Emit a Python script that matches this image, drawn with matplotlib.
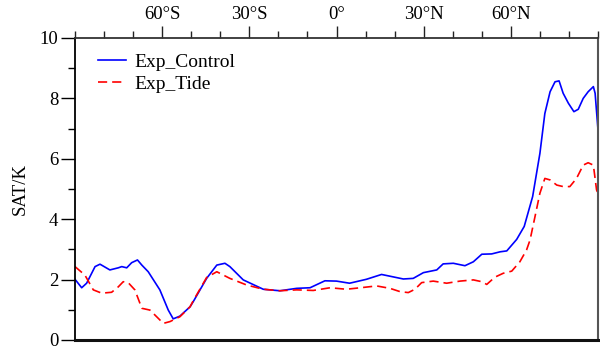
import numpy as np
import matplotlib
matplotlib.use('Agg')
import matplotlib.pyplot as plt
from matplotlib.ticker import MultipleLocator, FixedLocator

plt.rcParams['font.family'] = ['Liberation Serif', 'DejaVu Serif']
plt.rcParams['font.size'] = 13.5

# Surface air temperature difference by latitude
lat_ctrl = [-90, -87.7, -86, -83.1, -81.4, -78, -75.1, -73.9, -72.2, -70.5, -68.5, -67,
            -64.8, -60.8, -57.9, -56.2, -53.9, -50.4, -49.3, -44.7, -41.2, -38.4, -36.7,
            -32.1, -25.2, -19.5, -13.7, -9.1, -4.0, 0, 4.5, 10.3, 15.5, 23, 26.4, 29.9,
            34.5, 36.7, 40.2, 44.2, 47.1, 50, 53.4, 56.3, 58.6, 62, 64.6, 67.5, 70,
            71.7, 73.5, 75.2, 76.6, 78, 79.8, 81.7, 83.2, 84.9, 86.6, 88.4, 89, 90]
sat_ctrl = [2.01, 1.73, 1.88, 2.43, 2.51, 2.32, 2.39, 2.43, 2.39, 2.56, 2.65, 2.48,
            2.26, 1.66, 0.99, 0.70, 0.79, 1.10, 1.27, 2.04, 2.48, 2.54, 2.43,
            1.99, 1.68, 1.63, 1.71, 1.73, 1.96, 1.95, 1.88, 2.01, 2.17, 2.02, 2.04, 2.23,
            2.32, 2.52, 2.54, 2.46, 2.59, 2.84, 2.85, 2.92, 2.95, 3.33, 3.76, 4.75, 6.18,
            7.50, 8.22, 8.55, 8.58, 8.17, 7.84, 7.56, 7.64, 8.00, 8.22, 8.39, 8.17, 6.95]

lat_tide = [-90, -86.6, -83.7, -80.8, -77.4, -75.1, -73.4, -71.7, -69.4, -67, -64.2,
            -61.9, -59.6, -57.3, -55, -53.9, -50.4, -49.3, -44.7, -41.2, -36.7, -30.9,
            -25.2, -19.5, -13.7, -8, -2.2, 3.4, 9.2, 13.8, 18.4, 21.9, 24.7, 27, 29.3,
            33.3, 37.9, 42.5, 47.1, 50, 51.7, 54.5, 57.4, 60.3, 63.1, 65.4, 66.6, 68.3,
            70, 71.7, 73.5, 75.8, 78, 80.3, 82.6, 84.9, 86.6, 88.4, 89.5, 90]
sat_tide = [2.43, 2.15, 1.66, 1.55, 1.58, 1.76, 1.93, 1.90, 1.66, 1.05, 0.99,
            0.77, 0.55, 0.61, 0.72, 0.77, 1.10, 1.30, 2.07, 2.26, 2.04, 1.82,
            1.68, 1.63, 1.66, 1.64, 1.73, 1.68, 1.74, 1.79, 1.71, 1.60, 1.57, 1.68, 1.90,
            1.95, 1.88, 1.95, 1.99, 1.93, 1.84, 2.08, 2.21, 2.28, 2.59, 2.98, 3.31, 4.08,
            4.86, 5.35, 5.30, 5.13, 5.08, 5.08, 5.35, 5.79, 5.87, 5.79, 4.97, 4.85]

xticks = [-60, -30, 0, 30, 60]
xticklabels = ['60°S', '30°S', '0°', '30°N', '60°N']

fig = plt.figure(figsize=(6, 3.47), dpi=100)
ax = fig.add_axes([0.125, 0.0202, 0.8717, 0.8703])

ax.plot(lat_ctrl, sat_ctrl, color='#0000ff', lw=1.2, label='Exp_Control')
ax.plot(lat_tide, sat_tide, color='#ff0000', lw=1.2, ls=(0, (5.5, 3)), label='Exp_Tide')

ax.set_xlim(-90, 90)
ax.set_ylim(0, 10)

ax.xaxis.tick_top()
ax.xaxis.set_major_locator(FixedLocator(xticks))
ax.set_xticklabels(xticklabels)
ax.xaxis.set_minor_locator(MultipleLocator(10))
ax.yaxis.set_major_locator(MultipleLocator(2))
ax.yaxis.set_minor_locator(MultipleLocator(1))
ax.tick_params(axis='x', which='major', direction='out', length=9, width=1, pad=2, colors='#222222', labelcolor='k')
ax.tick_params(axis='x', which='minor', direction='out', length=5, width=1, colors='#222222')
ax.tick_params(axis='y', which='major', direction='out', length=10, width=1, pad=2)
ax.tick_params(axis='y', which='minor', direction='out', length=5, width=1)

ax.spines['bottom'].set_linewidth(2.2)
ax.spines['bottom'].set_color('#111111')
ax.spines['left'].set_linewidth(1.3)
ax.spines['top'].set_linewidth(1.3)
ax.spines['top'].set_color('#333333')
ax.spines['right'].set_linewidth(1.5)
ax.spines['right'].set_color('#555555')

ax.set_ylabel('SAT/K', labelpad=8)

ax.legend(loc='upper left', frameon=False, fontsize=14, handlelength=1.45, handletextpad=0.4,
          labelspacing=0.25, bbox_to_anchor=(0.018, 0.995), borderaxespad=0.3)

fig.savefig('out.png', dpi=100)
